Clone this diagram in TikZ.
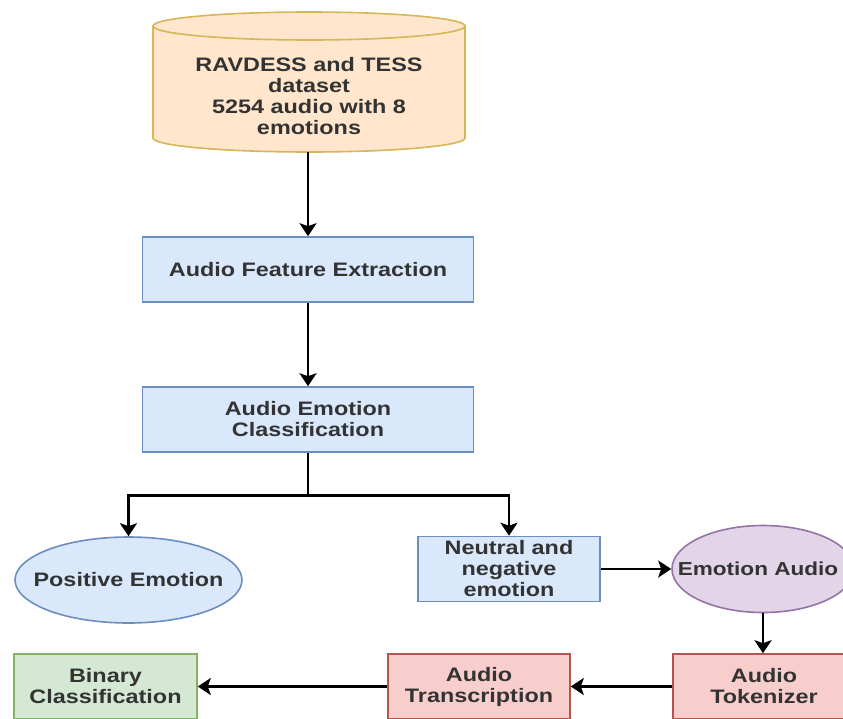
\documentclass[tikz,border=0pt]{standalone}
\usepackage{fontspec}
\setmainfont{Liberation Sans}[FakeStretch=1.2]
\usepackage{tikz}
\usetikzlibrary{arrows.meta, shapes.geometric}

\definecolor{dbfill}{HTML}{FFE6CC}
\definecolor{dbline}{HTML}{D6B656}
\definecolor{bluefill}{HTML}{DAE8FC}
\definecolor{blueline}{HTML}{6C8EBF}
\definecolor{purplefill}{HTML}{E1D5E7}
\definecolor{purpleline}{HTML}{9673A6}
\definecolor{redfill}{HTML}{F8CECC}
\definecolor{redline}{HTML}{B85450}
\definecolor{greenfill}{HTML}{D5E8D4}
\definecolor{greenline}{HTML}{82B366}
\definecolor{txt}{HTML}{333333}

\tikzset{
  every node/.style={font=\fontsize{19.5}{21}\selectfont\bfseries, text=txt, align=center},
  procbox/.style={rectangle, line width=1.6pt, inner sep=0pt, minimum width=182pt, minimum height=65pt},
  bluebox/.style={procbox, draw=blueline, fill=bluefill},
  redbox/.style={procbox, draw=redline, fill=redfill},
  greenbox/.style={procbox, draw=greenline, fill=greenfill},
  emonode/.style={ellipse, line width=1.6pt, inner sep=0pt},
  dbshape/.style={draw=dbline, fill=dbfill, line width=1.6pt},
  flow/.style={line width=2.9pt, -{Stealth[length=13pt, width=17pt, inset=3pt]}}
}

\begin{document}
\begin{tikzpicture}[x=1pt, y=-1pt]
\useasboundingbox (0,0) rectangle (843,718);
\clip (0,0) rectangle (843,718);

% dataset
\path[dbshape] (153,26) -- (153,138) arc (180:0:156 and 14) -- (465,26) arc (0:-180:156 and 14) -- cycle;
\draw[dbshape, fill=none] (153,26) arc (180:0:156 and 14);
\node (data) at (309,96) {RAVDESS and TESS\\dataset\\5254 audio with 8\\emotions};
\coordinate (dbbot) at (308,152);

\node[bluebox, minimum width=331pt] (feat) at (308,269.5) {Audio Feature Extraction};
\node[bluebox, minimum width=331pt] (cls) at (308,419.5) {Audio Emotion\\Classification};

\node[emonode, draw=blueline, fill=bluefill, minimum width=227pt, minimum height=86pt] (pos) at (128.5,580) {\makebox[0pt]{Positive Emotion}};
\node[bluebox] (neg) at (509,569) {Neutral and\\negative\\emotion};
\node[emonode, draw=purpleline, fill=purplefill, minimum width=182pt, minimum height=87pt] (emo) at (763,569) {\makebox[0pt]{\fontsize{18.8}{21}\selectfont Emotion Audio\hspace{10pt}}};

\node[redbox] (tok) at (764,686.5) {Audio\\Tokenizer};
\node[redbox] (trans) at (479,686.5) {Audio\\Transcription};
\node[greenbox, minimum width=183pt] (bin) at (105.5,686.5) {Binary\\Classification};

\draw[flow] (dbbot) -- (feat);
\draw[flow] (feat) -- (cls);
\draw[flow] (cls.south) -- ++(0,43) -| (pos.north);
\draw[flow] (cls.south) -- ++(0,43) -| (neg.north);
\draw[flow] (neg.east) -- (emo.west);
\draw[flow] (emo.south) -- (emo.south |- tok.north);
\draw[flow] (tok.west) -- (trans.east);
\draw[flow] (trans.west) -- (bin.east);
\end{tikzpicture}
\end{document}
